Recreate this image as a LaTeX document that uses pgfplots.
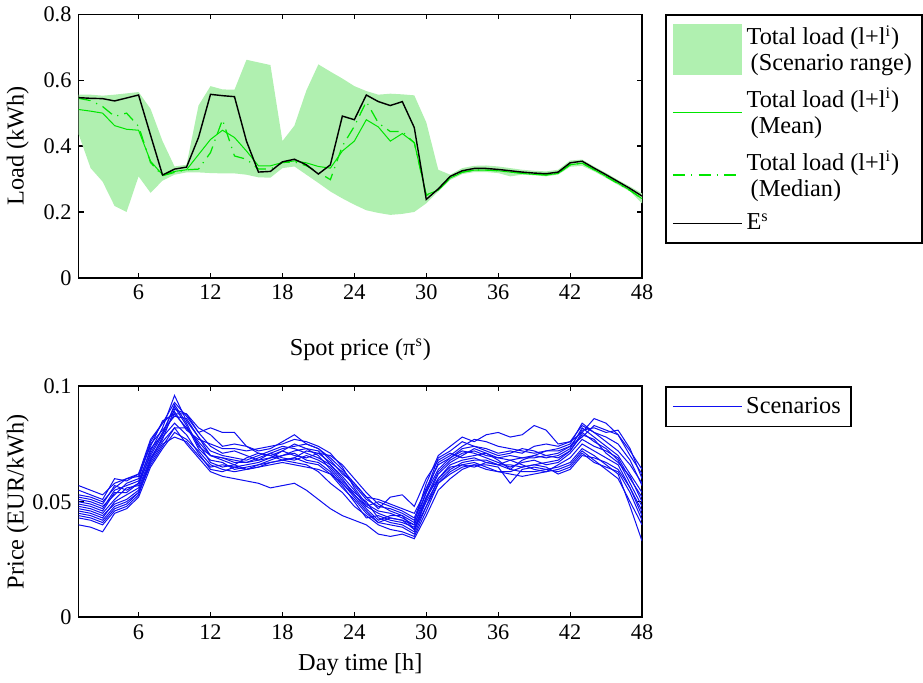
\documentclass[border=0pt]{standalone}
\usepackage{fontspec}
\setmainfont{Liberation Serif}
\usepackage{pgfplots}
\pgfplotsset{compat=1.18}
\usepackage{pgfplotstable}
\usepgfplotslibrary{fillbetween}
\definecolor{band}{RGB}{176,240,176}
\definecolor{mgreen}{RGB}{0,230,0}
\definecolor{pblue}{RGB}{15,15,240}

\pgfplotstableread{
h up lo mean med es
1 0.556 0.436 0.511 0.545 0.547
2 0.556 0.333 0.506 0.538 0.545
3 0.553 0.292 0.500 0.520 0.544
4 0.556 0.218 0.462 0.490 0.537
5 0.560 0.200 0.451 0.500 0.546
6 0.564 0.308 0.448 0.460 0.555
7 0.513 0.258 0.354 0.350 0.433
8 0.415 0.295 0.313 0.310 0.312
9 0.338 0.313 0.323 0.320 0.330
10 0.343 0.320 0.328 0.328 0.336
11 0.523 0.320 0.374 0.330 0.426
12 0.582 0.318 0.420 0.380 0.557
13 0.572 0.317 0.448 0.480 0.553
14 0.571 0.317 0.426 0.370 0.550
15 0.662 0.313 0.385 0.360 0.415
16 0.654 0.305 0.340 0.330 0.321
17 0.646 0.304 0.340 0.330 0.323
18 0.415 0.333 0.350 0.350 0.352
19 0.462 0.338 0.355 0.352 0.360
20 0.569 0.313 0.349 0.340 0.343
21 0.648 0.288 0.338 0.320 0.315
22 0.626 0.262 0.333 0.298 0.343
23 0.605 0.241 0.385 0.400 0.491
24 0.582 0.222 0.415 0.460 0.480
25 0.567 0.205 0.480 0.535 0.555
26 0.556 0.197 0.458 0.470 0.535
27 0.559 0.191 0.415 0.444 0.523
28 0.557 0.194 0.438 0.444 0.535
29 0.554 0.200 0.410 0.410 0.456
30 0.472 0.226 0.252 0.250 0.238
31 0.328 0.262 0.266 0.266 0.270
32 0.313 0.297 0.303 0.305 0.308
33 0.333 0.315 0.320 0.321 0.325
34 0.340 0.321 0.327 0.327 0.332
35 0.341 0.321 0.327 0.327 0.332
36 0.338 0.318 0.325 0.325 0.329
37 0.333 0.308 0.321 0.321 0.325
38 0.328 0.313 0.317 0.318 0.321
39 0.325 0.311 0.314 0.315 0.318
40 0.323 0.308 0.312 0.312 0.316
41 0.328 0.313 0.317 0.317 0.321
42 0.356 0.337 0.343 0.343 0.349
43 0.359 0.340 0.348 0.348 0.354
44 0.338 0.323 0.328 0.328 0.333
45 0.318 0.303 0.308 0.307 0.313
46 0.297 0.282 0.287 0.286 0.292
47 0.277 0.262 0.266 0.265 0.271
48 0.256 0.226 0.240 0.240 0.248
}\loadtab

\pgfplotstableread{
h s1 s2 s3 s4 s5 s6 s7 s8 s9 s10 s11 s12 s13 s14
1 0.050 0.046 0.052 0.044 0.040 0.055 0.048 0.051 0.047 0.053 0.049 0.045 0.057 0.043
2 0.049 0.045 0.051 0.043 0.039 0.053 0.047 0.050 0.046 0.052 0.048 0.044 0.055 0.042
3 0.047 0.043 0.049 0.041 0.037 0.051 0.045 0.048 0.044 0.050 0.046 0.042 0.053 0.040
4 0.055 0.050 0.057 0.047 0.045 0.060 0.051 0.053 0.049 0.056 0.054 0.048 0.058 0.046
5 0.057 0.053 0.055 0.049 0.047 0.059 0.056 0.058 0.051 0.060 0.054 0.050 0.060 0.048
6 0.059 0.056 0.058 0.054 0.052 0.062 0.057 0.060 0.055 0.061 0.058 0.054 0.062 0.053
7 0.072 0.069 0.073 0.066 0.065 0.077 0.071 0.075 0.068 0.076 0.070 0.067 0.074 0.068
8 0.082 0.077 0.079 0.074 0.073 0.084 0.080 0.081 0.078 0.084 0.079 0.075 0.085 0.076
9 0.096 0.090 0.088 0.082 0.080 0.093 0.091 0.087 0.084 0.089 0.092 0.078 0.088 0.082
10 0.085 0.088 0.082 0.075 0.077 0.087 0.083 0.086 0.079 0.081 0.084 0.076 0.088 0.082
11 0.078 0.080 0.075 0.069 0.072 0.080 0.073 0.078 0.071 0.077 0.074 0.070 0.082 0.076
12 0.072 0.074 0.067 0.063 0.066 0.082 0.068 0.070 0.064 0.075 0.070 0.065 0.079 0.070
13 0.070 0.071 0.065 0.061 0.064 0.080 0.067 0.069 0.063 0.073 0.069 0.066 0.074 0.068
14 0.069 0.072 0.066 0.060 0.063 0.080 0.064 0.068 0.065 0.073 0.067 0.065 0.075 0.066
15 0.068 0.070 0.069 0.059 0.064 0.074 0.065 0.067 0.066 0.072 0.067 0.064 0.074 0.064
16 0.070 0.068 0.071 0.058 0.065 0.071 0.066 0.068 0.067 0.073 0.069 0.066 0.072 0.065
17 0.072 0.069 0.070 0.056 0.067 0.070 0.068 0.071 0.069 0.074 0.071 0.067 0.073 0.066
18 0.074 0.072 0.068 0.057 0.068 0.072 0.070 0.073 0.070 0.075 0.069 0.068 0.076 0.067
19 0.073 0.075 0.069 0.058 0.067 0.070 0.072 0.074 0.071 0.077 0.068 0.069 0.079 0.066
20 0.071 0.073 0.072 0.055 0.066 0.069 0.073 0.075 0.068 0.076 0.070 0.067 0.075 0.065
21 0.069 0.070 0.071 0.051 0.063 0.071 0.072 0.073 0.067 0.074 0.068 0.066 0.073 0.064
22 0.066 0.064 0.067 0.047 0.058 0.070 0.066 0.069 0.063 0.071 0.065 0.062 0.068 0.062
23 0.061 0.058 0.063 0.044 0.054 0.066 0.060 0.064 0.057 0.065 0.059 0.056 0.062 0.058
24 0.055 0.052 0.057 0.042 0.048 0.060 0.053 0.058 0.050 0.056 0.054 0.051 0.058 0.053
25 0.048 0.046 0.051 0.040 0.044 0.054 0.048 0.052 0.043 0.049 0.050 0.045 0.052 0.047
26 0.045 0.041 0.048 0.036 0.040 0.049 0.050 0.047 0.044 0.046 0.043 0.041 0.051 0.042
27 0.043 0.040 0.047 0.035 0.038 0.046 0.048 0.052 0.042 0.045 0.041 0.043 0.049 0.044
28 0.042 0.039 0.045 0.036 0.037 0.044 0.046 0.053 0.041 0.043 0.040 0.042 0.047 0.044
29 0.038 0.036 0.042 0.034 0.035 0.041 0.043 0.048 0.039 0.040 0.037 0.040 0.045 0.038
30 0.052 0.048 0.054 0.044 0.046 0.058 0.056 0.060 0.050 0.054 0.051 0.052 0.055 0.048
31 0.063 0.060 0.064 0.055 0.058 0.070 0.066 0.068 0.059 0.067 0.062 0.060 0.069 0.058
32 0.068 0.066 0.069 0.060 0.062 0.074 0.069 0.071 0.064 0.070 0.067 0.065 0.072 0.063
33 0.071 0.068 0.073 0.064 0.065 0.078 0.072 0.069 0.067 0.074 0.070 0.066 0.076 0.066
34 0.072 0.069 0.074 0.066 0.066 0.076 0.071 0.070 0.068 0.077 0.073 0.067 0.074 0.065
35 0.070 0.067 0.072 0.064 0.066 0.079 0.069 0.071 0.068 0.076 0.071 0.065 0.073 0.067
36 0.069 0.066 0.070 0.063 0.065 0.080 0.067 0.068 0.066 0.074 0.069 0.063 0.071 0.066
37 0.068 0.066 0.071 0.062 0.058 0.078 0.065 0.064 0.068 0.073 0.070 0.063 0.072 0.064
38 0.069 0.065 0.073 0.061 0.064 0.079 0.067 0.068 0.066 0.072 0.069 0.065 0.071 0.063
39 0.070 0.066 0.072 0.062 0.065 0.083 0.068 0.070 0.064 0.071 0.069 0.066 0.074 0.063
40 0.069 0.067 0.070 0.063 0.064 0.081 0.066 0.072 0.063 0.072 0.070 0.065 0.075 0.064
41 0.070 0.068 0.071 0.064 0.065 0.075 0.067 0.073 0.066 0.072 0.069 0.062 0.074 0.063
42 0.073 0.072 0.074 0.066 0.067 0.076 0.071 0.075 0.069 0.074 0.072 0.064 0.076 0.065
43 0.082 0.080 0.078 0.072 0.073 0.080 0.077 0.084 0.075 0.081 0.079 0.070 0.083 0.071
44 0.078 0.076 0.083 0.068 0.070 0.086 0.074 0.080 0.072 0.082 0.077 0.069 0.080 0.067
45 0.074 0.073 0.081 0.064 0.066 0.084 0.072 0.076 0.069 0.080 0.071 0.067 0.078 0.065
46 0.070 0.068 0.079 0.060 0.062 0.079 0.069 0.072 0.066 0.081 0.067 0.064 0.075 0.063
47 0.062 0.058 0.070 0.050 0.048 0.072 0.060 0.066 0.056 0.073 0.061 0.056 0.068 0.054
48 0.054 0.048 0.062 0.040 0.033 0.064 0.052 0.058 0.046 0.060 0.050 0.044 0.057 0.042
}\pricetab

\begin{document}
\begin{tikzpicture}
\pgfplotsset{
  common/.style={
    scale only axis, width=278pt,
    xmin=1, xmax=48, xtick={6,12,...,48},
    tick align=inside, major tick length=2.5pt,
    axis line style={line width=0.8pt},
    every tick/.style={black, line width=0.6pt},
    tick label style={font=\fontsize{11}{13}\selectfont},
    label style={font=\fontsize{12}{14}\selectfont},
    /pgf/number format/assume math mode=true,
    ylabel style={at={(axis description cs:-0.108,0.5)}, anchor=center},
    legend style={font=\fontsize{12}{12.8}\selectfont, draw=black, line width=0.8pt,
      at={(1,1)}, anchor=north west, xshift=11.5pt,
      cells={anchor=west, align=left}, row sep=3pt, inner sep=3pt},
    legend cell align=left,
  },
  lineleg/.style={legend image code/.code={\draw[##1] (0pt,0pt) -- (34pt,0pt);}},
}
\begin{axis}[common, name=top, at={(0,0)}, anchor=north west,
  height=130pt, ymin=0, ymax=0.8,
  ytick={0,0.2,0.4,0.6,0.8}, yticklabels={0,0.2,0.4,0.6,0.8},
  ylabel={Load (kWh)}]
  \addplot[draw=none, name path=U, forget plot] table[x=h, y=up] {\loadtab};
  \addplot[draw=none, name path=L, forget plot] table[x=h, y=lo] {\loadtab};
  \addplot[band, draw=none, fill=band,
    legend image code/.code={\fill[band] (0pt,-12.5pt) rectangle (34pt,12.5pt);}]
    fill between[of=U and L];
  \addlegendentry{Total load (l+l\textsuperscript{i})\\\hspace{2pt}(Scenario range)}
  \addplot[mgreen, line width=0.5pt, lineleg] table[x=h, y=mean] {\loadtab};
  \addlegendentry{Total load (l+l\textsuperscript{i})\\\hspace{2pt}(Mean)}
  \addplot[mgreen, line width=0.6pt, dash pattern=on 6pt off 3pt on 0.6pt off 3pt, lineleg] table[x=h, y=med] {\loadtab};
  \addlegendentry{Total load (l+l\textsuperscript{i})\\\hspace{2pt}(Median)}
  \addplot[black, line width=0.7pt, lineleg] table[x=h, y=es] {\loadtab};
  \addlegendentry{E\textsuperscript{s}}
\end{axis}
\begin{axis}[common, name=bot, at={(0,-183.5pt)}, anchor=north west,
  height=114pt, ymin=0, ymax=0.1,
  ytick={0,0.05,0.1}, yticklabels={0,0.05,0.1},
  ylabel={Price (EUR/kWh)}, xlabel={Day time [h]},
  title={Spot price (π\textsuperscript{s})},
  title style={font=\fontsize{12}{14}\selectfont, yshift=3pt}]
  \addplot[pblue, line width=0.5pt, lineleg] table[x=h, y=s1] {\pricetab};
  \addlegendentry{Scenarios}
  \pgfplotsinvokeforeach{s2,s3,s4,s5,s6,s7,s8,s9,s10,s11,s12,s13,s14}{
    \addplot[pblue, line width=0.5pt, forget plot] table[x=h, y=#1] {\pricetab};
  }
\end{axis}
\end{tikzpicture}
\end{document}
